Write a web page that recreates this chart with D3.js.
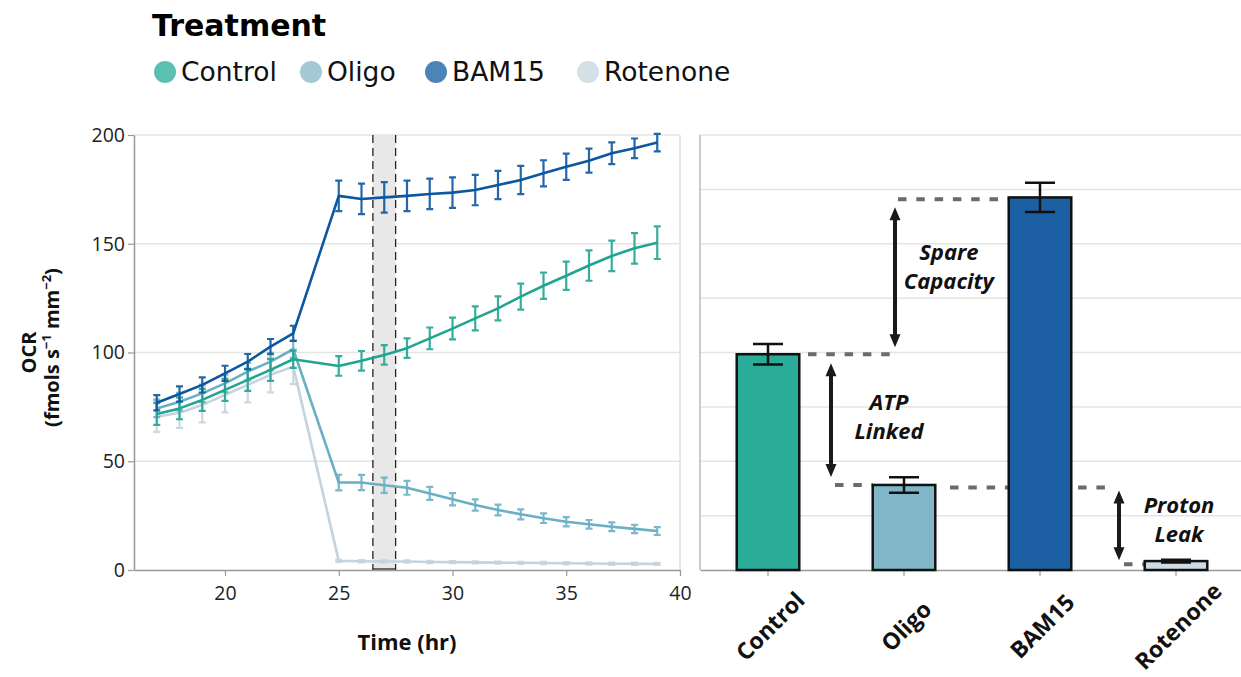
<!DOCTYPE html>
<html>
<head>
<meta charset="utf-8">
<script src="https://cdn.jsdelivr.net/npm/d3@7"></script>
<style>
  body { margin: 0; background: #fff; }
  text { font-family: 'Open Sans', sans-serif; }
</style>
</head>
<body>
<div id="app"></div>
<script>
'use strict'

// Treatments and time points (hr)
const treatments = ['Control', 'Oligo', 'BAM15', 'Rotenone']
const times = [17, 18, 19, 20, 21, 22, 23, 25, 26, 27, 28, 29, 30, 31, 32, 33, 34, 35, 36, 37, 38, 39]

// OCR time courses, mean and error
const controlOCR = [71.7, 74.3, 78.2, 82.8, 87.4, 92.0, 96.9, 93.8, 96.2, 98.9, 102.0, 106.5, 111.0, 115.7, 120.3, 125.7, 130.7, 135.3, 140.0, 144.4, 147.9, 150.5]
const controlErr = [5, 5, 5, 5, 5, 5, 4, 4.5, 4.5, 4.5, 4.5, 5, 5, 5.5, 5.5, 6, 6, 6.5, 7, 7, 7, 7.5]
const oligoOCR = [74.3, 77.4, 81.2, 85.8, 91.2, 95.8, 101.5, 40.2, 40.2, 39.0, 37.8, 35.2, 32.5, 29.9, 27.6, 25.6, 23.8, 22.2, 21.0, 19.9, 18.9, 17.9]
const oligoErr = [4, 4, 4, 4, 4, 4, 4, 3.6, 3.5, 3.5, 3.2, 3, 2.8, 2.6, 2.5, 2.3, 2.2, 2.1, 2, 2, 1.9, 1.8]
const bam15OCR = [76.9, 80.9, 85.1, 90.4, 95.8, 102.7, 108.8, 172.0, 170.6, 171.3, 172.0, 172.9, 173.5, 174.7, 177.0, 179.3, 182.4, 185.4, 188.2, 191.6, 193.9, 196.5]
const bam15Err = [3.5, 3.5, 3.5, 3.5, 3.5, 3.5, 3.5, 7, 7, 7, 7, 7, 7, 7, 6.5, 6.5, 6, 6, 5.5, 5, 4.5, 4]
const rotenoneOCR = [70.5, 72.3, 75.9, 80.5, 85.1, 89.7, 93.5, 4.2, 4.0, 3.9, 3.9, 3.7, 3.6, 3.5, 3.4, 3.3, 3.2, 3.1, 3.0, 2.9, 2.9, 2.8]
const rotenoneErr = [7, 7, 8, 8, 8, 8, 8, 0.5, 0.5, 0.5, 0.5, 0.5, 0.5, 0.5, 0.5, 0.5, 0.5, 0.5, 0.5, 0.5, 0.5, 0.5]

// Window used for the bar chart (hr)
const windowStart = 26.5
const windowEnd = 27.5

// Bar chart values
const barValues = [99.2, 39.1, 171.3, 4.1]
const barErrors = [4.7, 3.6, 6.7, 0.6]

// Tick labels
const xTicks = [20, 25, 30, 35, 40]
const yTicks = [0, 50, 100, 150, 200]
const barGrid = [25, 50, 75, 100, 125, 150, 175, 200]

const lineColors = { Control: '#20a591', Oligo: '#6aafc4', BAM15: '#0b57a0', Rotenone: '#c5d3de' }
const legendColors = { Control: '#5bbfb1', Oligo: '#a3c9d6', BAM15: '#4d84b8', Rotenone: '#d4dfe6' }
const barColors = { Control: '#2aac98', Oligo: '#80b6c8', BAM15: '#1c5fa3', Rotenone: '#cfdbe4' }

const series = [
	{ name: 'Rotenone', values: rotenoneOCR, err: rotenoneErr },
	{ name: 'Oligo', values: oligoOCR, err: oligoErr },
	{ name: 'Control', values: controlOCR, err: controlErr },
	{ name: 'BAM15', values: bam15OCR, err: bam15Err }
].map(s => ({ name: s.name, points: times.map((t, i) => ({ t, v: s.values[i], e: s.err[i] })) }))

const bars = treatments.map((name, i) => ({ name, v: barValues[i], e: barErrors[i] }))

const W = 1241, H = 677
const plotTop = 135, plotBottom = 570

const svg = d3.select('#app').append('svg')
	.attr('width', W)
	.attr('height', H)
	.style('display', 'block')

const x = d3.scaleLinear().domain([16, 40]).range([134, 680])
const y = d3.scaleLinear().domain([0, 200]).range([plotBottom, plotTop])

/*
 * Left panel: time course
 */
const left = svg.append('g')

left.selectAll('.grid')
	.data(yTicks.filter(d => d > 0))
	.enter().append('line')
	.attr('x1', x.range()[0]).attr('x2', x.range()[1])
	.attr('y1', d => y(d)).attr('y2', d => y(d))
	.style('stroke', '#e4e4e4')
	.style('stroke-width', 1.5)

left.append('line')
	.attr('x1', x.range()[1]).attr('x2', x.range()[1])
	.attr('y1', plotTop).attr('y2', plotBottom)
	.style('stroke', '#e0e0e0')
	.style('stroke-width', 1.5)

// shaded window with dashed borders
left.append('rect')
	.attr('x', x(windowStart))
	.attr('y', plotTop)
	.attr('width', x(windowEnd) - x(windowStart))
	.attr('height', plotBottom - plotTop)
	.style('fill', '#e8e8e8')

left.selectAll('.win')
	.data([windowStart, windowEnd])
	.enter().append('line')
	.attr('x1', d => x(d)).attr('x2', d => x(d))
	.attr('y1', plotTop).attr('y2', plotBottom)
	.style('stroke', '#222')
	.style('stroke-width', 1.3)
	.style('stroke-dasharray', '8,5')

left.append('line')
	.attr('x1', x(windowStart)).attr('x2', x(windowEnd))
	.attr('y1', plotBottom - 1).attr('y2', plotBottom - 1)
	.style('stroke', '#222')
	.style('stroke-width', 1.3)

const xAxis = left.append('g')
	.attr('transform', `translate(0, ${plotBottom})`)
	.call(d3.axisBottom(x).tickValues(xTicks).tickSize(6).tickSizeOuter(0).tickPadding(10))
xAxis.select('.domain').style('stroke', '#999').style('stroke-width', 1.5)
xAxis.selectAll('.tick line').style('stroke', '#999').style('stroke-width', 1.2)
xAxis.selectAll('.tick text').style('font-size', '19.5px').style('fill', '#222').style('font-family', 'Open Sans')

const yAxis = left.append('g')
	.attr('transform', `translate(${x.range()[0]}, 0)`)
	.call(d3.axisLeft(y).tickValues(yTicks).tickSize(6).tickSizeOuter(0).tickPadding(3))
yAxis.select('.domain').style('stroke', '#999').style('stroke-width', 1.5)
yAxis.selectAll('.tick line').style('stroke', '#999').style('stroke-width', 1.2)
yAxis.selectAll('.tick text').style('font-size', '19.5px').style('fill', '#222').style('font-family', 'Open Sans')

const line = d3.line()
	.x(d => x(d.t))
	.y(d => y(d.v))

const sg = left.selectAll('.series')
	.data(series)
	.enter().append('g')
	.attr('class', 'series')

sg.append('path')
	.attr('d', d => line(d.points))
	.style('fill', 'none')
	.style('stroke', d => lineColors[d.name])
	.style('stroke-width', 2.6)
	.style('stroke-linejoin', 'round')

sg.each(function (s) {
	const g = d3.select(this)
	const col = lineColors[s.name]
	g.selectAll('.eb')
		.data(s.points)
		.enter().append('path')
		.attr('d', d => {
			const cx = x(d.t), y0 = y(d.v - d.e), y1 = y(d.v + d.e)
			return `M${cx},${y0}V${y1}M${cx - 3.5},${y0}H${cx + 3.5}M${cx - 3.5},${y1}H${cx + 3.5}`
		})
		.style('fill', 'none')
		.style('stroke', col)
		.style('stroke-width', 2.2)
		.style('stroke-opacity', 0.9)
})

left.append('text')
	.attr('x', (x.range()[0] + x.range()[1]) / 2)
	.attr('y', 650)
	.attr('text-anchor', 'middle')
	.style('font-size', '22px')
	.style('font-weight', 'bold')
	.style('fill', '#111')
	.text('Time (hr)')

const yl = left.append('g')
	.attr('transform', `translate(0, ${(plotTop + plotBottom) / 2}) rotate(-90)`)
yl.append('text')
	.attr('y', 36)
	.attr('text-anchor', 'middle')
	.style('font-size', '20px')
	.style('font-weight', 'bold')
	.style('fill', '#111')
	.text('OCR')
const yl2 = yl.append('text')
	.attr('x', 5)
	.attr('y', 59)
	.attr('text-anchor', 'middle')
	.style('font-size', '20px')
	.style('font-weight', 'bold')
	.style('fill', '#111')
yl2.append('tspan').text('(fmols s')
yl2.append('tspan').attr('dy', -8).style('font-size', '13px').text('−1')
yl2.append('tspan').attr('dy', 8).text(' mm')
yl2.append('tspan').attr('dy', -8).style('font-size', '13px').text('−2')
yl2.append('tspan').attr('dy', 8).text(')')

/*
 * Right panel: bars with annotations
 */
const right = svg.append('g')

const xb = d3.scaleBand()
	.domain(treatments)
	.range([700, 1244])
	.paddingInner(0.54)
	.paddingOuter(0.27)
const bw = xb.bandwidth()
const cx = name => xb(name) + bw / 2

right.selectAll('.grid')
	.data(barGrid)
	.enter().append('line')
	.attr('x1', xb.range()[0]).attr('x2', W)
	.attr('y1', d => y(d)).attr('y2', d => y(d))
	.style('stroke', '#e4e4e4')
	.style('stroke-width', 1.5)

right.append('line')
	.attr('x1', xb.range()[0]).attr('x2', xb.range()[0])
	.attr('y1', plotTop).attr('y2', plotBottom)
	.style('stroke', '#bbb')
	.style('stroke-width', 1.5)

const bAxis = right.append('g')
	.attr('transform', `translate(0, ${plotBottom})`)
	.call(d3.axisBottom(xb).tickSize(6).tickSizeOuter(0))
bAxis.select('.domain').style('stroke', '#999').style('stroke-width', 1.5)
bAxis.selectAll('.tick line').style('stroke', '#999').style('stroke-width', 1.2)
bAxis.selectAll('.tick text')
	.attr('y', 0).attr('dy', 0)
	.attr('transform', 'translate(8, 62) rotate(-45)')
	.attr('text-anchor', 'middle')
	.style('font-size', '23px')
	.style('font-weight', 'bold')
	.style('fill', '#111')
	.style('font-family', 'Open Sans')

// annotation levels
const ctrlLevel = barValues[0]
const oligoLevel = barValues[1]
const bamLevel = barValues[2] - 0.8
const oligoLevel2 = barValues[1] - 1.2
const rotLevel = barValues[3] - 1.5

const spareX = cx('Oligo') - 9
const atpX = cx('Control') + 63
const protonX = cx('BAM15') + 79

const dashes = [
	{ x1: cx('Control') + 40, x2: spareX - 5, v: ctrlLevel },
	{ x1: spareX + 3, x2: xb('BAM15'), v: bamLevel },
	{ x1: atpX + 4, x2: xb('Oligo'), v: oligoLevel },
	{ x1: cx('Oligo') + 46, x2: protonX - 8, v: oligoLevel2 },
	{ x1: protonX + 5, x2: xb('Rotenone'), v: rotLevel }
]

right.selectAll('.dash')
	.data(dashes)
	.enter().append('line')
	.attr('x1', d => d.x1).attr('x2', d => d.x2)
	.attr('y1', d => y(d.v)).attr('y2', d => y(d.v))
	.style('stroke', '#6b6b6b')
	.style('stroke-width', 4)
	.style('stroke-dasharray', '8.5,9.8')

right.selectAll('.bar')
	.data(bars)
	.enter().append('rect')
	.attr('x', d => xb(d.name))
	.attr('y', d => y(d.v))
	.attr('width', bw)
	.attr('height', d => plotBottom - y(d.v))
	.style('fill', d => barColors[d.name])
	.style('stroke', '#111')
	.style('stroke-width', 2.5)

right.selectAll('.berr')
	.data(bars)
	.enter().append('path')
	.attr('d', d => {
		const c = cx(d.name), y0 = y(d.v - d.e), y1 = y(d.v + d.e)
		return `M${c},${y0}V${y1}M${c - 15},${y0}H${c + 15}M${c - 15},${y1}H${c + 15}`
	})
	.style('fill', 'none')
	.style('stroke', '#111')
	.style('stroke-width', 2.5)

// double-headed arrows
const arrows = [
	{ x: spareX, y1: y(bamLevel) + 8, y2: y(ctrlLevel) - 7 },
	{ x: atpX, y1: y(ctrlLevel) + 9, y2: y(oligoLevel) - 8 },
	{ x: protonX, y1: y(oligoLevel2) + 3, y2: y(rotLevel) - 4 }
]
const ah = 13, aw = 5.5
const ag = right.selectAll('.arrow')
	.data(arrows)
	.enter().append('g')
ag.append('line')
	.attr('x1', d => d.x).attr('x2', d => d.x)
	.attr('y1', d => d.y1 + ah - 2).attr('y2', d => d.y2 - ah + 2)
	.style('stroke', '#1a1a1a')
	.style('stroke-width', 4)
ag.append('path')
	.attr('d', d => `M${d.x},${d.y1}L${d.x - aw},${d.y1 + ah}L${d.x + aw},${d.y1 + ah}Z` +
		`M${d.x},${d.y2}L${d.x - aw},${d.y2 - ah}L${d.x + aw},${d.y2 - ah}Z`)
	.style('fill', '#1a1a1a')

const labels = [
	{ lines: ['Spare', 'Capacity'], x: (spareX + xb('BAM15')) / 2 - 3, mid: (y(bamLevel) + y(ctrlLevel)) / 2, off: -17 },
	{ lines: ['ATP', 'Linked'], x: cx('Oligo') - 15, mid: (y(ctrlLevel) + y(oligoLevel)) / 2, off: -10 },
	{ lines: ['Proton', 'Leak'], x: cx('Rotenone') + 3, mid: (y(oligoLevel2) + y(rotLevel)) / 2, off: -13 }
]
labels.forEach(l => {
	right.append('text')
		.attr('x', l.x)
		.attr('y', l.mid + l.off)
		.attr('text-anchor', 'middle')
		.style('font-size', '22px')
		.style('font-weight', 'bold')
		.style('font-style', 'italic')
		.style('fill', '#111')
		.selectAll('tspan')
		.data(l.lines)
		.enter().append('tspan')
		.attr('x', l.x)
		.attr('dy', (d, i) => i === 0 ? 0 : 29)
		.text(d => d)
})

/*
 * Legend
 */
const legend = svg.append('g')
legend.append('text')
	.attr('x', 152)
	.attr('y', 36)
	.style('font-family', 'DejaVu Sans')
	.style('font-size', '30px')
	.style('font-weight', 'bold')
	.style('fill', '#000')
	.text('Treatment')

const legendX = [154, 300, 425, 577]
treatments.forEach((name, i) => {
	legend.append('circle')
		.attr('cx', legendX[i] + 11)
		.attr('cy', 72)
		.attr('r', 11)
		.style('fill', legendColors[name])
	legend.append('text')
		.attr('x', legendX[i] + 27)
		.attr('y', 81)
		.style('font-family', 'DejaVu Sans')
		.style('font-size', '26.5px')
		.style('fill', '#111')
		.text(name)
})
</script>
</body>
</html>
